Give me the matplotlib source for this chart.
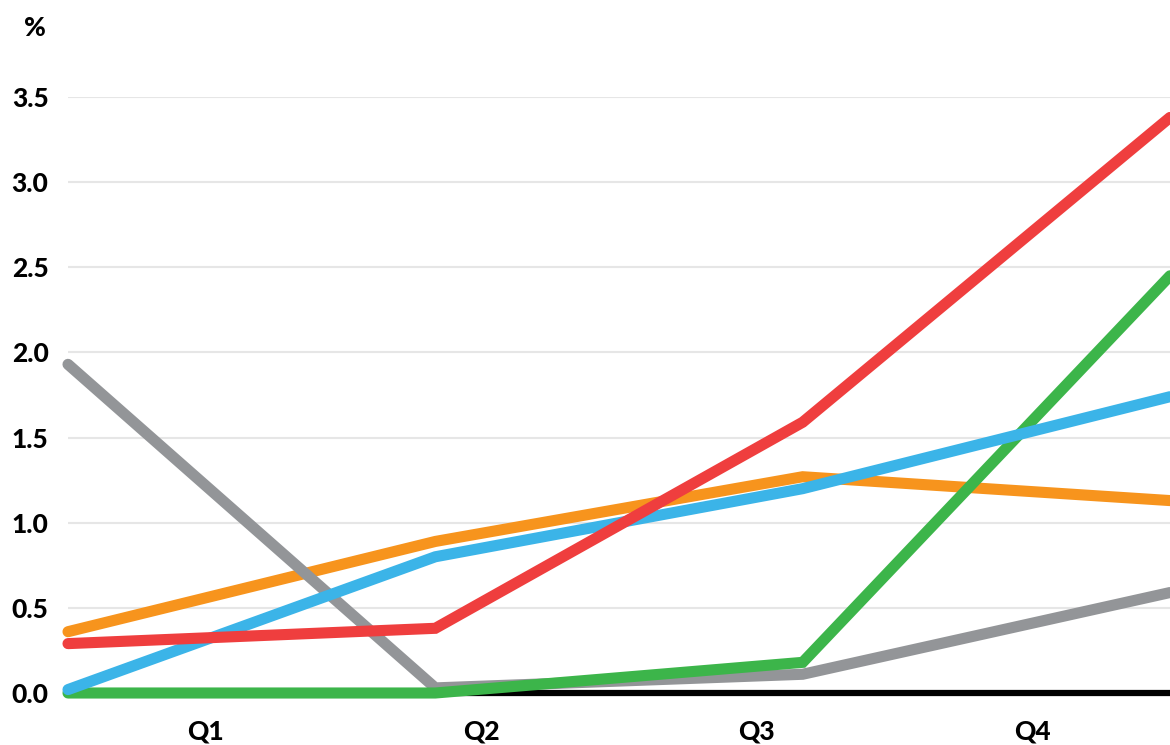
import matplotlib
matplotlib.use("Agg")
import matplotlib.pyplot as plt
from matplotlib.transforms import blended_transform_factory

plt.rcParams['font.family'] = ['Lato', 'DejaVu Sans']

# Quarterly values (%) for each series
quarters = ["Q1", "Q2", "Q3", "Q4"]
gray_vals = [1.93, 0.03, 0.11, 0.59]
orange_vals = [0.36, 0.89, 1.27, 1.13]
green_vals = [0.0, 0.0, 0.18, 2.45]
blue_vals = [0.02, 0.80, 1.20, 1.74]
red_vals = [0.29, 0.38, 1.59, 3.38]
y_ticks = [0.0, 0.5, 1.0, 1.5, 2.0, 2.5, 3.0, 3.5]

series = [
    (orange_vals, "#f7941d"),
    (gray_vals, "#939598"),
    (green_vals, "#3cb54a"),
    (blue_vals, "#3bb4e8"),
    (red_vals, "#ef3e3e"),
]

fig = plt.figure(figsize=(11.7, 7.45), dpi=100)
ax = fig.add_axes([68 / 1170, 52 / 745, 1 - 68 / 1170, (693 - 97) / 745])

x = list(range(len(quarters)))
for vals, color in series:
    ax.plot(x, vals, color=color, lw=8, solid_capstyle="round",
            solid_joinstyle="miter", clip_on=False, zorder=3)

ax.set_xlim(0, 3)
ax.set_ylim(0, 3.5)

ax.set_yticks(y_ticks)
ax.set_yticklabels([f"{v:.1f}" for v in y_ticks], fontsize=19, fontweight="black")
ax.tick_params(axis="y", length=0, pad=14)
ax.set_xticks([])

ax.grid(axis="y", color="#e6e6e6", lw=1.5, zorder=0)
for side in ["top", "right", "left"]:
    ax.spines[side].set_visible(False)
ax.spines["bottom"].set_color("black")
ax.spines["bottom"].set_linewidth(4.5)
ax.spines["bottom"].set_zorder(2)

# Quarter labels centred in four equal bands along the axis
trans = blended_transform_factory(ax.transData, ax.transAxes)
band = 3 / len(quarters)
for i, q in enumerate(quarters):
    ax.text(band * (i + 0.5), -0.065, q, transform=trans, ha="center", va="center",
            fontsize=19, fontweight="black")

fig.text(35 / 1170, 1 - 28 / 745, "%", ha="center", va="center",
         fontsize=19, fontweight="black")

fig.savefig("out.png", dpi=100, facecolor="white")
